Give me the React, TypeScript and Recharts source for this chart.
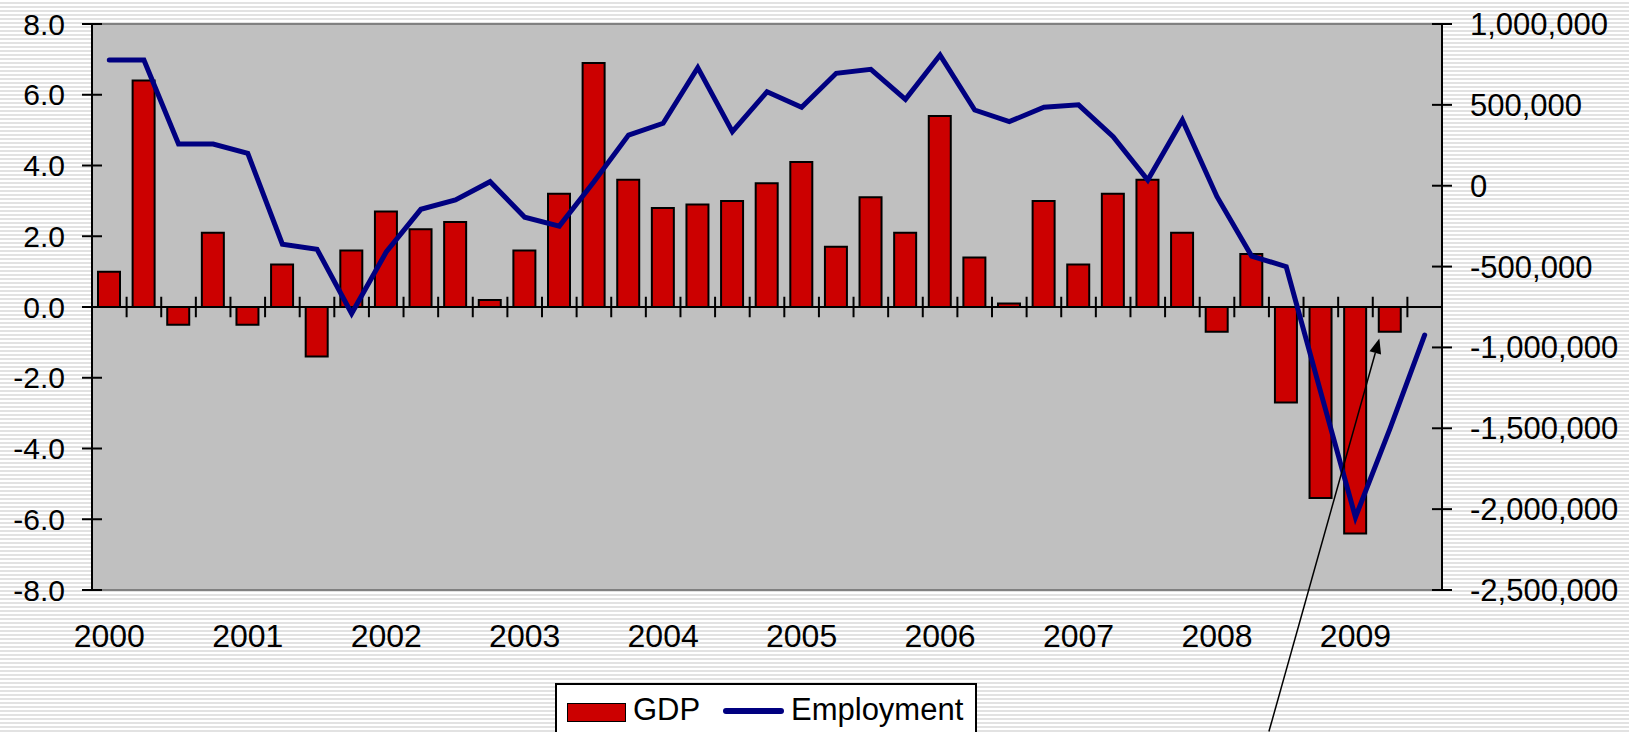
import React from "react";
import {
  ComposedChart,
  Bar,
  Line,
  XAxis,
  YAxis,
  CartesianGrid,
  ReferenceLine,
} from "recharts";

const quarters = [
  "2000Q1", "2000Q2", "2000Q3", "2000Q4",
  "2001Q1", "2001Q2", "2001Q3", "2001Q4",
  "2002Q1", "2002Q2", "2002Q3", "2002Q4",
  "2003Q1", "2003Q2", "2003Q3", "2003Q4",
  "2004Q1", "2004Q2", "2004Q3", "2004Q4",
  "2005Q1", "2005Q2", "2005Q3", "2005Q4",
  "2006Q1", "2006Q2", "2006Q3", "2006Q4",
  "2007Q1", "2007Q2", "2007Q3", "2007Q4",
  "2008Q1", "2008Q2", "2008Q3", "2008Q4",
  "2009Q1", "2009Q2", "2009Q3",
];

// GDP growth, annualised %
const gdp = [
  1.0, 6.4, -0.5, 2.1,
  -0.5, 1.2, -1.4, 1.6,
  2.7, 2.2, 2.4, 0.2,
  1.6, 3.2, 6.9, 3.6,
  2.8, 2.9, 3.0, 3.5,
  4.1, 1.7, 3.1, 2.1,
  5.4, 1.4, 0.1, 3.0,
  1.2, 3.2, 3.6, 2.1,
  -0.7, 1.5, -2.7, -5.4,
  -6.4, -0.7,
];

// change in employment
const employment = [
  777000, 777000, 258000, 258000,
  200000, -362000, -393000, -790000,
  -410000, -146000, -88000, 25000,
  -195000, -250000, 25000, 313000,
  386000, 730000, 334000, 581000,
  485000, 695000, 720000, 534000,
  808000, 468000, 396000, 485000,
  500000, 303000, 35000, 406000,
  -68000, -435000, -501000, -1280000,
  -2050000, -1500000, -923000,
];

const gdpTicks = [-8, -6, -4, -2, 0, 2, 4, 6, 8];
const empTicks = [-2500000, -2000000, -1500000, -1000000, -500000, 0, 500000, 1000000];

// annotation arrow, in (category position, GDP value) units
const arrowTail = { x: 34.0, y: -12.0 };
const arrowTip = { x: 37.19, y: -0.89 };

const FONT = '"Liberation Sans", Arial, Helvetica, sans-serif';

const data = quarters.map((q, i) => ({
  quarter: q,
  pos: i + 0.5,
  gdp: gdp[i],
  employment: employment[i],
}));

function LeftTick(props: any) {
  const { x, y, payload } = props;
  return (
    <g>
      <line x1={x + 17} x2={x + 37} y1={y} y2={y} stroke="#000" strokeWidth={2} />
      <text x={x} y={y} dy={10.5} textAnchor="end" fontSize={30} fontFamily={FONT} fill="#000">
        {Number(payload.value).toFixed(1)}
      </text>
    </g>
  );
}

function RightTick(props: any) {
  const { x, y, payload } = props;
  return (
    <g>
      <line x1={x - 38} x2={x - 18} y1={y} y2={y} stroke="#000" strokeWidth={2} />
      <text x={x} y={y} dy={11} textAnchor="start" fontSize={31} fontFamily={FONT} fill="#000">
        {Number(payload.value).toLocaleString("en-US")}
      </text>
    </g>
  );
}

function YearTick(props: any) {
  const { x, y, payload } = props;
  return (
    <text x={x} y={y} dy={37} textAnchor="middle" fontSize={32} fontFamily={FONT} fill="#000">
      {String(payload.value).slice(0, 4)}
    </text>
  );
}

function Arrow(props: any) {
  const { x1, y1, x2, y2 } = props;
  const ang = Math.atan2(y2 - y1, x2 - x1);
  const len = 15;
  const half = 6;
  const bx = x2 - len * Math.cos(ang);
  const by = y2 - len * Math.sin(ang);
  const px = -Math.sin(ang) * half;
  const py = Math.cos(ang) * half;
  return (
    <g>
      <line x1={x1} y1={y1} x2={bx} y2={by} stroke="#000" strokeWidth={1.5} />
      <polygon points={`${x2},${y2} ${bx + px},${by + py} ${bx - px},${by - py}`} fill="#000" />
    </g>
  );
}

function LegendBox() {
  return (
    <div
      style={{
        position: "absolute",
        left: 555,
        top: 683,
        width: 422,
        height: 60,
        background: "#fff",
        border: "2px solid #000",
        boxSizing: "border-box",
        fontFamily: FONT,
        fontSize: 31,
        color: "#000",
      }}
    >
      <div style={{ position: "absolute", left: 10, top: 18, width: 57, height: 17, background: "#cc0000", border: "1.5px solid #000" }} />
      <span style={{ position: "absolute", left: 76, top: 8, lineHeight: "34px" }}>GDP</span>
      <div style={{ position: "absolute", left: 166, top: 23, width: 61, height: 6, background: "#000080", borderRadius: 3 }} />
      <span style={{ position: "absolute", left: 234, top: 8, lineHeight: "34px" }}>Employment</span>
    </div>
  );
}

export default function App() {
  return (
    <div
      style={{
        position: "absolute",
        left: 0,
        top: 0,
        width: 1629,
        height: 732,
        overflow: "hidden",
        background:
          "repeating-linear-gradient(180deg, #ffffff 0px, #ffffff 2px, #e2e2e2 2px, #e2e2e2 4px)",
      }}
    >
      <ComposedChart
        width={1629}
        height={732}
        data={data}
        margin={{ top: 24, right: 0, bottom: 0, left: 0 }}
      >
        <CartesianGrid xAxisId="cat" yAxisId="gdp" fill="#c0c0c0" horizontal={false} vertical={false} />
        <XAxis
          xAxisId="cat"
          dataKey="quarter"
          type="category"
          interval={3}
          height={142}
          axisLine={false}
          tickLine={false}
          tickSize={10}
          tickMargin={10}
          tick={<YearTick />}
        />
        <XAxis xAxisId="num" type="number" dataKey="pos" domain={[0, quarters.length]} allowDataOverflow hide />
        <YAxis
          yAxisId="gdp"
          domain={[-8, 8]}
          ticks={gdpTicks}
          interval={0}
          allowDataOverflow
          width={92}
          axisLine={{ stroke: "#000", strokeWidth: 2 }}
          tickLine={false}
          tickSize={10}
          tickMargin={17}
          tick={<LeftTick />}
        />
        <YAxis
          yAxisId="emp"
          orientation="right"
          domain={[-2500000, 1000000]}
          ticks={empTicks}
          interval={0}
          allowDataOverflow
          width={187}
          axisLine={{ stroke: "#000", strokeWidth: 2 }}
          tickLine={false}
          tickSize={10}
          tickMargin={18}
          tick={<RightTick />}
        />
        <ReferenceLine xAxisId="cat" yAxisId="gdp" y={8} stroke="#808080" strokeWidth={2} />
        <ReferenceLine xAxisId="cat" yAxisId="gdp" y={-8} stroke="#808080" strokeWidth={2} />
        <Bar
          xAxisId="cat"
          yAxisId="gdp"
          dataKey="gdp"
          name="GDP"
          fill="#cc0000"
          stroke="#000"
          strokeWidth={2}
          barSize={22}
          isAnimationActive={false}
        />
        <ReferenceLine xAxisId="cat" yAxisId="gdp" y={0} stroke="#000" strokeWidth={2} />
        {quarters.slice(1).map((q, i) => (
          <ReferenceLine
            key={q}
            xAxisId="num"
            yAxisId="gdp"
            segment={[
              { x: i + 1, y: -0.29 },
              { x: i + 1, y: 0.29 },
            ]}
            stroke="#000"
            strokeWidth={2}
          />
        ))}
        <Line
          xAxisId="cat"
          yAxisId="emp"
          type="linear"
          dataKey="employment"
          name="Employment"
          stroke="#000080"
          strokeWidth={5}
          strokeLinecap="round"
          dot={false}
          activeDot={false}
          isAnimationActive={false}
        />
        <ReferenceLine
          xAxisId="num"
          yAxisId="gdp"
          ifOverflow="visible"
          segment={[arrowTail, arrowTip]}
          shape={<Arrow />}
        />
      </ComposedChart>
      <LegendBox />
    </div>
  );
}
